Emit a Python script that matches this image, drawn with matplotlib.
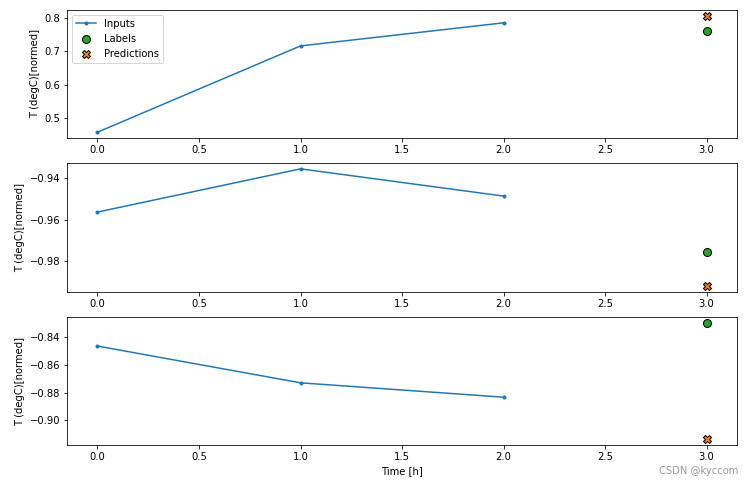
import matplotlib
matplotlib.use("Agg")
import matplotlib.pyplot as plt

input_steps = [0, 1, 2]
label_step = [3]

inputs_1 = [0.458, 0.716, 0.785]
inputs_2 = [-0.9563, -0.9355, -0.9486]
inputs_3 = [-0.8463, -0.8729, -0.8833]

labels_vals = [0.761, -0.9753, -0.8295]
pred_vals = [0.806, -0.9918, -0.9137]

ylabel = "T (degC)[normed]"
xlabel = "Time [h]"

fig = plt.figure(figsize=(754 / 72, 487 / 72), dpi=72)
positions = [
    (0.0889, 0.7166, 0.8886, 0.2629),
    (0.0889, 0.4010, 0.8886, 0.2643),
    (0.0889, 0.0862, 0.8886, 0.2628),
]
all_inputs = [inputs_1, inputs_2, inputs_3]
for n in range(3):
    ax = fig.add_axes(positions[n])
    ax.plot(input_steps, all_inputs[n], label="Inputs", marker=".", zorder=-10, color="#1f77b4")
    ax.scatter(label_step, [labels_vals[n]], edgecolors="k", label="Labels", c="#2ca02c", s=64)
    ax.scatter(label_step, [pred_vals[n]], marker="X", edgecolors="k", label="Predictions", c="#ff7f0e", s=64)
    ax.set_ylabel(ylabel)
    if n == 0:
        ax.legend(loc="upper left")
    if n == 2:
        ax.set_xlabel(xlabel)

fig.text(0.979, 0.022, "CSDN @kyccom", ha="right", va="bottom", color="#999999", fontsize=10)
fig.savefig("out.png", dpi=72)
